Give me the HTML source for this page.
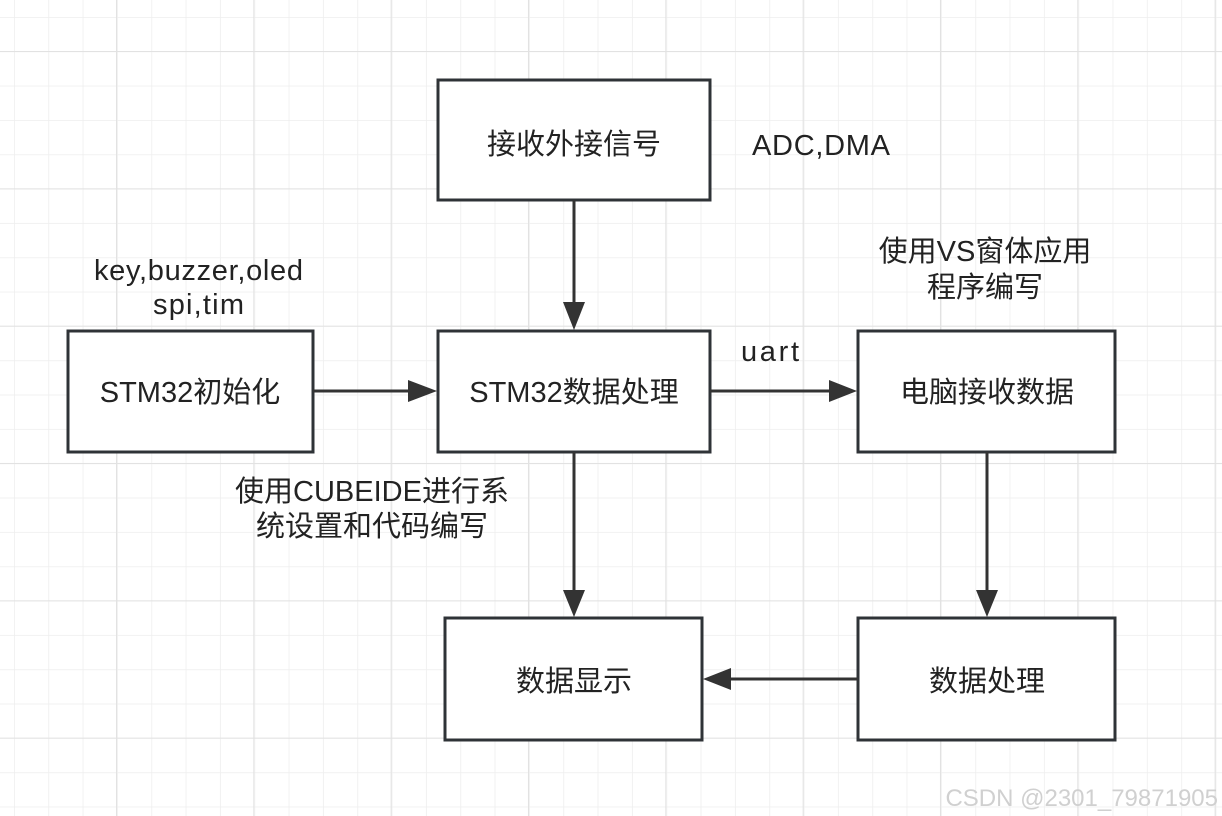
<!DOCTYPE html>
<html><head><meta charset="utf-8"><style>
html,body{margin:0;padding:0;background:#fff}
svg{display:block}
text{font-family:"Liberation Sans","Noto Sans CJK SC",sans-serif;fill:#222}
</style></head><body>
<svg width="1222" height="816" viewBox="0 0 1222 816" xmlns="http://www.w3.org/2000/svg">
<defs>
<pattern id="minor" x="-20.33" y="-17.33" width="34.33" height="34.33" patternUnits="userSpaceOnUse">
<path d="M0 0H34.33M0 0V34.33" stroke="#eeeeee" stroke-width="1.6" fill="none"/>
</pattern>
<pattern id="major" x="-21.33" y="-86.33" width="137.33" height="137.33" patternUnits="userSpaceOnUse">
<path d="M0 0H137.33M0 0V137.33" stroke="#e2e2e2" stroke-width="2" fill="none"/>
</pattern>
</defs>
<rect width="1222" height="816" fill="#fff"/>
<rect width="1222" height="816" fill="url(#minor)"/>
<rect width="1222" height="816" fill="url(#major)"/>
<g fill="#fff" stroke="#2f3337" stroke-width="3">
<rect x="438" y="80" width="272" height="120"/>
<rect x="68" y="331" width="245" height="121"/>
<rect x="438" y="331" width="272" height="121"/>
<rect x="858" y="331" width="257" height="121"/>
<rect x="445" y="618" width="257" height="122"/>
<rect x="858" y="618" width="257" height="122"/>
</g>
<g stroke="#333" stroke-width="3">
<line x1="574" y1="200" x2="574" y2="305"/>
<line x1="313" y1="391" x2="410" y2="391"/>
<line x1="710" y1="391" x2="832" y2="391"/>
<line x1="574" y1="452" x2="574" y2="593"/>
<line x1="987" y1="452" x2="987" y2="593"/>
<line x1="858" y1="679" x2="728" y2="679"/>
</g>
<g fill="#333">
<polygon points="563,302 585,302 574,330"/>
<polygon points="408,380 408,402 437,391"/>
<polygon points="829,380 829,402 857,391"/>
<polygon points="563,590 585,590 574,617"/>
<polygon points="976,590 998,590 987,617"/>
<polygon points="731,668 731,690 703,679"/>
</g>
<g font-size="29" text-anchor="middle">
<text x="574" y="154">接收外接信号</text>
<text x="190" y="402">STM32初始化</text>
<text x="574" y="402">STM32数据处理</text>
<text x="987" y="402">电脑接收数据</text>
<text x="574" y="691">数据显示</text>
<text x="987" y="691">数据处理</text>
</g>
<g font-size="29">
<text x="752" y="155" textLength="138">ADC,DMA</text>
<text x="741" y="361" textLength="58">uart</text>
<text x="94" y="280" textLength="209">key,buzzer,oled</text>
<text x="153" y="314" textLength="91">spi,tim</text>
<text x="985" y="261" text-anchor="middle">使用VS窗体应用</text>
<text x="985" y="297" text-anchor="middle">程序编写</text>
<text x="372" y="501" text-anchor="middle">使用CUBEIDE进行系</text>
<text x="372" y="536" text-anchor="middle">统设置和代码编写</text>
</g>
<text x="1218" y="806" font-size="24" text-anchor="end" style="fill:#d0d0d0">CSDN @2301_79871905</text>
</svg>
</body></html>
